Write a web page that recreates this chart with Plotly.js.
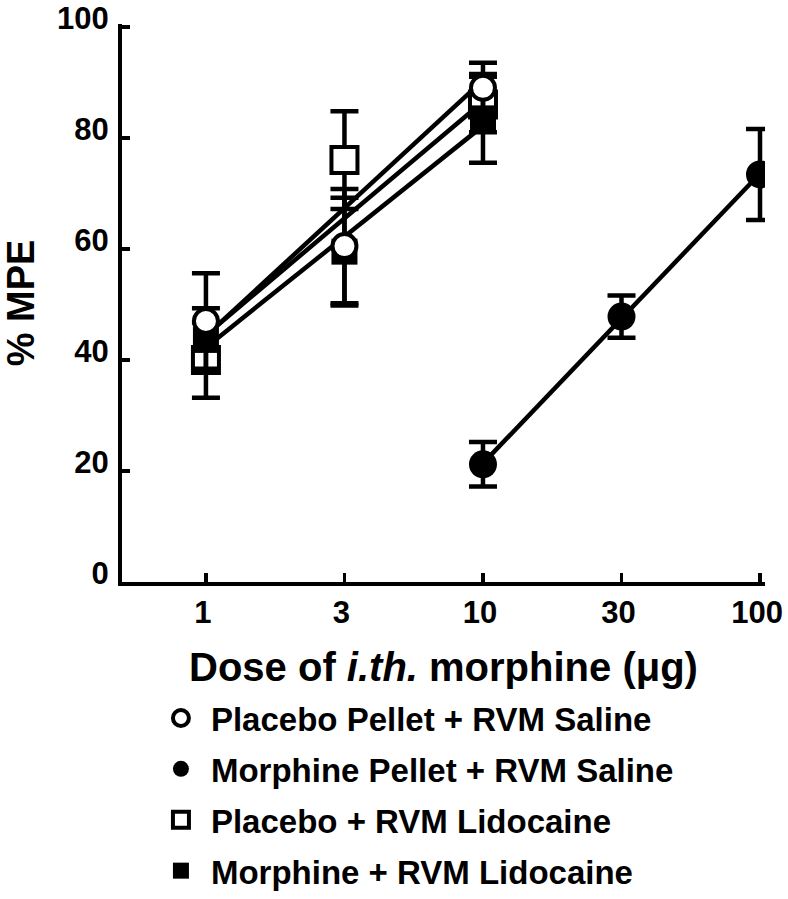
<!DOCTYPE html>
<html>
<head>
<meta charset="utf-8">
<script src="https://cdn.plot.ly/plotly-3.0.1.min.js"></script>
<style>body{margin:0;background:#fff}</style>
</head>
<body>
<div id="chart" style="width:788px;height:899px;"></div>
<script>
// doses of i.th. morphine (ug), drawn evenly spaced
var doses = ['1', '3', '10', '30', '100'];

// Placebo Pellet + RVM Saline (open circle)
var placeboSalineDose = ['1', '3', '10'];
var placeboSaline = [47, 60.5, 89];
var placeboSalineErr = [8.6, 10.3, 4.5];

// Morphine Pellet + RVM Saline (filled circle)
var morphineSalineDose = ['10', '30', '100'];
var morphineSaline = [21.2, 47.8, 73.4];
var morphineSalineErr = [4, 3.8, 8.2];

// Placebo + RVM Lidocaine (open square)
var placeboLidoDose = ['1', '3', '10'];
var placeboLido = [40, 76, 86];
var placeboLidoErr = [6.8, 8.8, 5];

// Morphine + RVM Lidocaine (filled square)
var morphineLidoDose = ['1', '3', '10'];
var morphineLido = [43.6, 59.5, 83.5];
var morphineLidoErr = [5.7, 9.7, 8];

// least squares line over the evenly spaced dose positions
function fitLine(xcat, ys) {
  var xs = xcat.map(function (d) { return doses.indexOf(d); });
  var n = xs.length, mx = 0, my = 0, sxy = 0, sxx = 0;
  for (var i = 0; i < n; i++) { mx += xs[i] / n; my += ys[i] / n; }
  for (var j = 0; j < n; j++) {
    sxy += (xs[j] - mx) * (ys[j] - my);
    sxx += (xs[j] - mx) * (xs[j] - mx);
  }
  var b = sxy / sxx, a = my - b * mx;
  return {
    x: [xcat[0], xcat[n - 1]],
    y: [a + b * xs[0], a + b * xs[n - 1]],
    type: 'scatter', mode: 'lines',
    line: {color: '#000', width: 4.5},
    showlegend: false, hoverinfo: 'skip'
  };
}

function points(name, xcat, ys, err, symbol, fill, rank) {
  return {
    x: xcat, y: ys, name: name,
    type: 'scatter', mode: 'markers',
    legendgroup: name, legendrank: rank,
    marker: {
      symbol: symbol,
      size: symbol === 'circle' ? (fill === '#000' ? 28 : 24) : 26,
      color: fill,
      line: {color: '#000', width: fill === '#000' ? 0 : 4}
    },
    error_y: {type: 'data', array: err, visible: true, color: '#000', thickness: 4.5, width: 14}
  };
}

var data = [
  fitLine(placeboLidoDose, placeboLido),
  fitLine(placeboSalineDose, placeboSaline),
  fitLine(morphineLidoDose, morphineLido),
  fitLine(morphineSalineDose, morphineSaline),
  points('Placebo + RVM Lidocaine', placeboLidoDose, placeboLido, placeboLidoErr, 'square', '#fff', 3),
  points('Morphine + RVM Lidocaine', morphineLidoDose, morphineLido, morphineLidoErr, 'square', '#000', 4),
  points('Morphine Pellet + RVM Saline', morphineSalineDose, morphineSaline, morphineSalineErr, 'circle', '#000', 2),
  points('Placebo Pellet + RVM Saline', placeboSalineDose, placeboSaline, placeboSalineErr, 'circle', '#fff', 1)
];

var fam = 'Liberation Sans, Arial, sans-serif';
var layout = {
  width: 788, height: 899,
  margin: {l: 122, r: 23, t: 24, b: 0},
  paper_bgcolor: '#fff', plot_bgcolor: '#fff',
  font: {family: fam, color: '#000', weight: 'bold'},
  showlegend: true,
  xaxis: {
    type: 'category',
    categoryorder: 'array', categoryarray: doses,
    range: [-0.606, 4.036],
    automargin: false, tickangle: 0,
    showgrid: false, zeroline: false,
    showline: true, linecolor: '#000', linewidth: 4,
    ticks: 'inside', ticklen: 9, tickwidth: 3.5, tickcolor: '#000',
    tickfont: {size: 31, family: fam, weight: 'bold'},
    ticklabelstandoff: 0, ticklabelshift: -3,
    title: {text: 'Dose of <i>i.th.</i> morphine (\u03bcg)', font: {size: 40, family: fam, weight: 'bold'}, standoff: 25}
  },
  yaxis: {
    domain: [0.3623, 1],
    range: [0, 100.5],
    tickvals: [0, 20, 40, 60, 80, 100],
    automargin: false,
    showgrid: false, zeroline: false,
    showline: true, linecolor: '#000', linewidth: 4,
    ticks: 'inside', ticklen: 8, tickwidth: 3.5, tickcolor: '#000',
    tickfont: {size: 31, family: fam, weight: 'bold'},
    ticklabelstandoff: 3, ticklabelshift: -9,
    title: {text: '% MPE', font: {size: 38, family: fam, weight: 'bold'}, standoff: 23}
  },
  legend: {
    x: 0.045, xanchor: 'left',
    y: 0, yanchor: 'bottom',
    font: {size: 33, family: fam, weight: 'bold'},
    itemwidth: 50,
    tracegroupgap: 5,
    bgcolor: 'rgba(0,0,0,0)'
  }
};

Plotly.newPlot('chart', data, layout, {displayModeBar: false, staticPlot: true});
</script>
</body>
</html>
